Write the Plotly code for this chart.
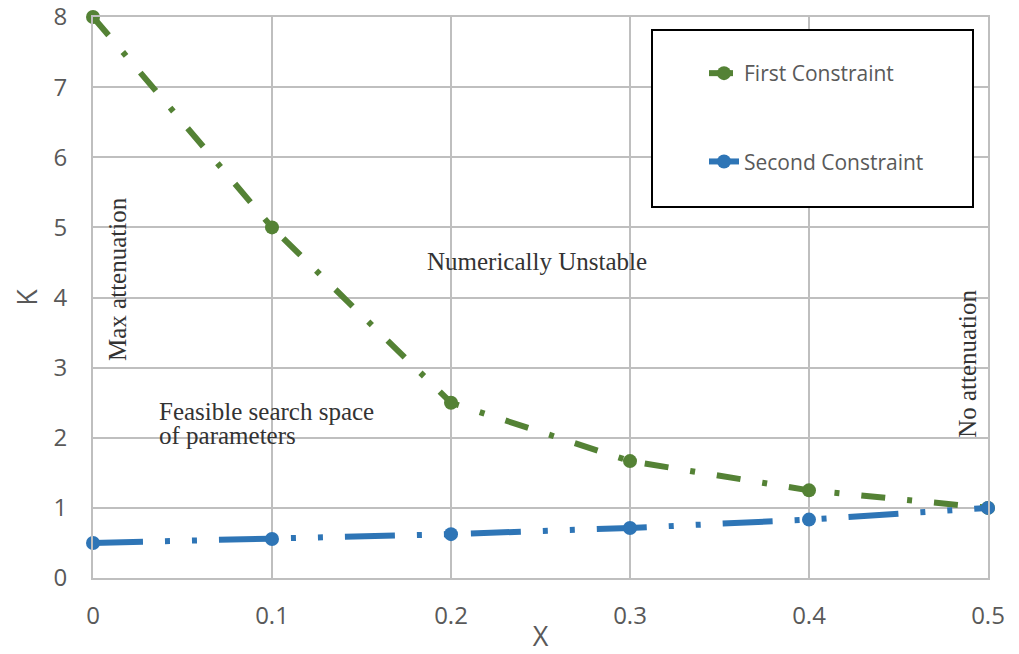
import plotly.graph_objects as go

x_vals = [0.0, 0.1, 0.2, 0.3, 0.4, 0.5]
first_constraint = [8.0, 5.0, 2.5, 1.667, 1.25, 1.0]
second_constraint = [0.5, 0.556, 0.625, 0.714, 0.833, 1.0]
x_ticks = [0, 0.1, 0.2, 0.3, 0.4, 0.5]
x_tick_text = ["0", "0.1", "0.2", "0.3", "0.4", "0.5"]
y_ticks = [0, 1, 2, 3, 4, 5, 6, 7, 8]

GREEN = "#548235"
BLUE = "#2E75B6"
GRID = "#BFBFBF"
TXT = "#595959"
SANS = "Open Sans, Noto Sans, sans-serif"
SERIF = "Liberation Serif, Times New Roman, serif"

fig = go.Figure()
fig.add_trace(go.Scatter(
    x=x_vals, y=first_constraint, mode="lines+markers", name="First Constraint",
    line=dict(color=GREEN, width=6, dash="24px,22px,5px,22px"),
    marker=dict(color=GREEN, size=14), cliponaxis=False, legendgroup="a"))
fig.add_trace(go.Scatter(
    x=x_vals, y=second_constraint, mode="lines+markers", name="Second Constraint",
    line=dict(color=BLUE, width=6, dash="50px,22px,5px,22px,5px,22px"),
    marker=dict(color=BLUE, size=14), cliponaxis=False, legendgroup="b"))

# plot area on screen: x 93..988, y 17..578 (body margin removed below)
W, H = 1019, 654
SL, SR, ST, SB = 93, 988, 17, 578
L, T, R, B = SL, ST, W - SR, H - SB
pw, ph = SR - SL, SB - ST

def px(xs):
    return (xs - SL) / pw

def py(ys):
    return (SB - ys) / ph

fig.add_shape(type="rect", xref="paper", yref="paper",
              x0=px(652), x1=px(973), y0=py(207), y1=py(30),
              line=dict(color="black", width=2), fillcolor="white", layer="above")

fig.update_layout(
    width=W, height=H,
    margin=dict(l=L, r=R, t=T, b=B, autoexpand=False),
    paper_bgcolor="white", plot_bgcolor="white",
    showlegend=True,
    legend=dict(x=px(704), y=py(53), xanchor="left", yanchor="top",
                bgcolor="rgba(0,0,0,0)", borderwidth=0,
                font=dict(family=SANS, size=21, color=TXT),
                tracegroupgap=58, traceorder="grouped"),
    xaxis=dict(range=[0, 0.5], tickvals=x_ticks, ticktext=x_tick_text,
               showgrid=True, gridcolor=GRID, gridwidth=2, automargin=False,
               showline=True, linecolor=GRID, linewidth=2, mirror=True,
               zeroline=False, ticks="", ticklabelstandoff=15,
               ticklabeloverflow="allow",
               tickfont=dict(family=SANS, size=24, color=TXT),
               title=dict(text="X", font=dict(family=SANS, size=27, color=TXT), standoff=1)),
    yaxis=dict(range=[0, 8], tickvals=y_ticks,
               showgrid=True, gridcolor=GRID, gridwidth=2, automargin=False,
               showline=True, linecolor=GRID, linewidth=2, mirror=True,
               zeroline=False, ticks="", ticklabelstandoff=19,
               ticklabeloverflow="allow",
               tickfont=dict(family=SANS, size=24, color=TXT),
               title=dict(text="K", font=dict(family=SANS, size=27, color=TXT), standoff=8)),
)

ann_font = dict(family=SERIF, size=25, color="#333333")
fig.add_annotation(x=0.0138, y=4.26, text="Max attenuation", textangle=-90,
                   showarrow=False, font=ann_font)
fig.add_annotation(x=0.2, y=4.52, text="Numerically Unstable", xanchor="left",
                   showarrow=False, font=ann_font, xshift=-26)
fig.add_annotation(x=0.0355, y=2.37, text="Feasible search space",
                   xanchor="left", align="left", showarrow=False, font=ann_font)
fig.add_annotation(x=0.0355, y=2.03, text="of parameters",
                   xanchor="left", align="left", showarrow=False, font=ann_font)
fig.add_annotation(x=0.4885, y=3.06, text="No attenuation", textangle=-90,
                   showarrow=False, font=ann_font)

fig.write_html("out.html", post_script="document.body.style.margin='0';",
               config={"displayModeBar": False})
